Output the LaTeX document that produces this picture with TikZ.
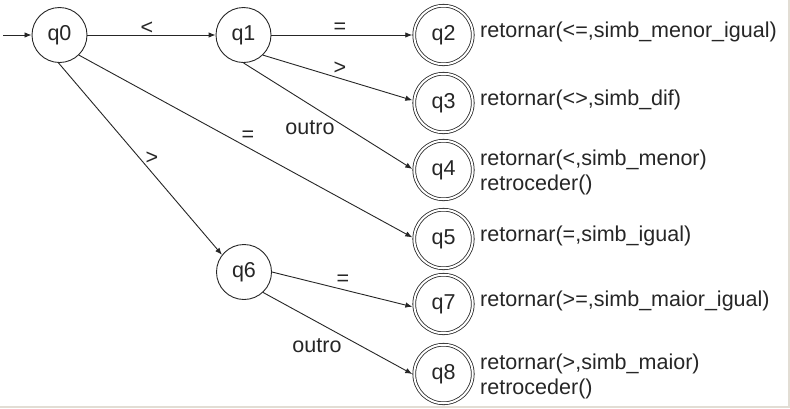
\documentclass[tikz,border=0pt]{standalone}
\usepackage{fontspec}
\setmainfont{Liberation Sans}
\usetikzlibrary{arrows.meta}
\definecolor{bordercol}{HTML}{E2DDD4}
\definecolor{ink}{HTML}{262626}
\begin{document}
\begin{tikzpicture}[x=1bp,y=-1bp,
  every node/.style={font=\fontsize{21.6}{25}\selectfont, text=ink},
  state/.style={circle,draw=ink,line width=0.9bp,minimum size=55bp,inner sep=0pt},
  accept/.style={circle,draw=ink,line width=0.8bp,double,double distance=2bp,minimum size=58.5bp,inner sep=0pt,outer sep=2bp},
  arr/.style={draw=ink,line width=0.9bp,-{Latex[length=7bp,width=5.5bp]}},
  act/.style={anchor=west,align=left,inner sep=0pt},
  lbl/.style={inner sep=0pt}]
\fill[bordercol] (0,0) rectangle (790,408);
\fill[white] (0,0) rectangle (787.5,405.5);
% states
\node[state] (q0) at (59.5,35) {q0};
\node[state] (q1) at (243.5,35) {q1};
\node[state] (q6) at (244,272) {q6};
\node[accept] (q2) at (443.5,35) {q2};
\node[accept] (q3) at (443.5,103) {q3};
\node[accept] (q4) at (443.5,170) {q4};
\node[accept] (q5) at (443.5,239) {q5};
\node[accept] (q7) at (443.5,304) {q7};
\node[accept] (q8) at (443.5,374) {q8};
% actions
\node[act] (a2) at (480,32) {retornar(<=,simb\_menor\_igual)};
\node[act] (a3) at (480,100) {retornar(<>,simb\_dif)};
\node[act] (a4) at (480,172) {retornar(<,simb\_menor)\\retroceder()};
\node[act] (a5) at (480,236) {retornar(=,simb\_igual)};
\node[act] (a7) at (480,301) {retornar(>=,simb\_maior\_igual)};
\node[act] (a8) at (480,376) {retornar(>,simb\_maior)\\retroceder()};
% initial arrow
\coordinate (start) at (3,35);
\draw[arr] (start) -- (q0);
% transitions
\draw[arr] (q0) -- (q1);
\draw[arr] (q1) -- (q2);
\draw[arr] (q1.-46) -- (q3.175);
\draw[arr] (q1.-90) -- (q4.178);
\draw[arr] (q0.-46) -- (q5.177);
\draw[arr] (q0.-92) -- (q6.142);
\draw[arr] (q6.east) -- (q7.-175);
\draw[arr] (q6.-47) -- (q8.west);
% labels
\node[lbl] (l01) at (147,28) {<};
\node[lbl] (l12) at (340,28) {=};
\node[lbl] (l13) at (340,68) {>};
\node[lbl] (l14) at (310,128) {outro};
\node[lbl] (l05) at (248,136) {=};
\node[lbl] (l06) at (152,158) {>};
\node[lbl] (l67) at (343,280) {=};
\node[lbl] (l68) at (317,346) {outro};
\end{tikzpicture}
\end{document}
